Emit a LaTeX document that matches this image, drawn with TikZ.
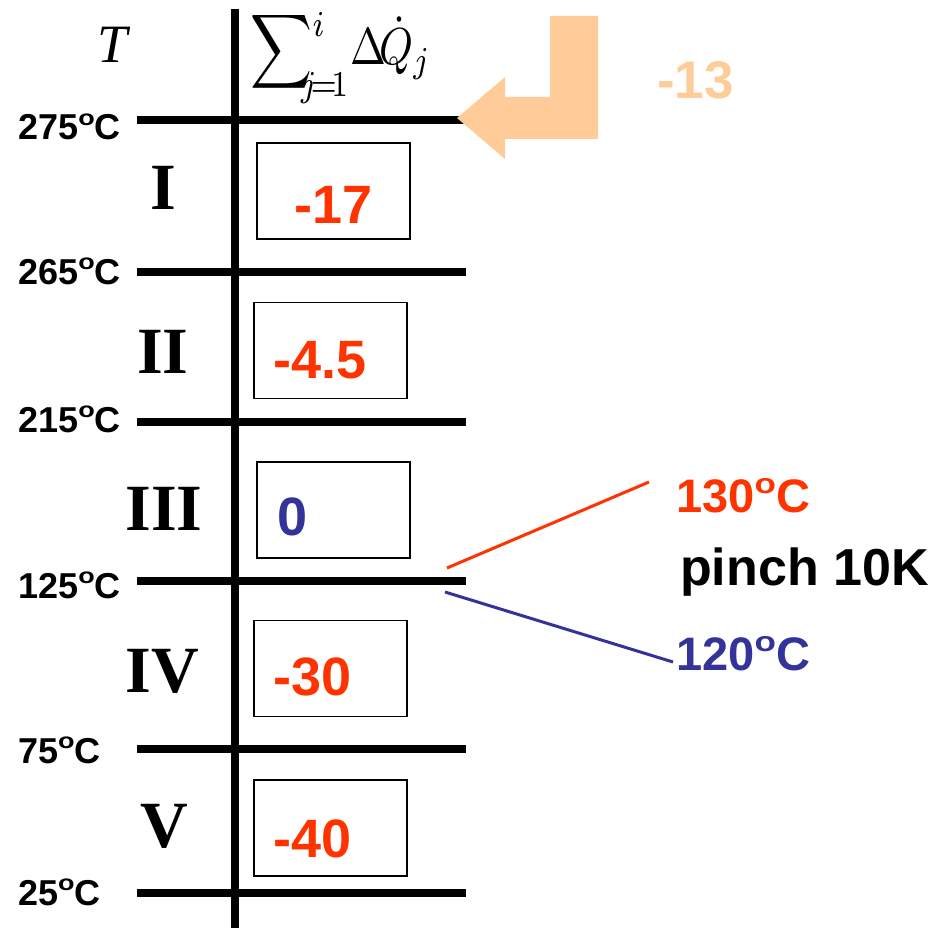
\documentclass[tikz,border=0pt]{standalone}
\usepackage{fontspec}
\usepackage{graphicx}
\setmainfont{Liberation Sans}
\newfontfamily\timesf{Liberation Serif}
\definecolor{hotred}{RGB}{255,51,0}
\definecolor{coldblue}{RGB}{51,51,153}
\definecolor{peach}{RGB}{255,204,153}
\newcommand{\degA}{\raisebox{14.5pt}{\fontsize{21.6}{22}\selectfont\scalebox{1.25}[1]{o}}}
\newcommand{\degB}{\raisebox{19pt}{\fontsize{28}{28}\selectfont\scalebox{1.25}[1]{o}}}
\begin{document}
\begin{tikzpicture}[x=1pt,y=-1pt,
  hline/.style={line width=8pt},
  tlabel/.style={anchor=base west, inner sep=0pt, font=\fontsize{36}{40}\selectfont\bfseries},
  roman/.style={anchor=base, inner sep=0pt, font=\fontsize{66}{70}\selectfont\timesf\bfseries},
  qbox/.style={draw, line width=1.5pt, minimum width=153pt, minimum height=96pt, inner sep=0pt},
  qval/.style={anchor=base west, inner sep=0pt, font=\fontsize{54}{60}\selectfont\bfseries},
  pinchlbl/.style={anchor=base west, inner sep=0pt, font=\fontsize{47}{52}\selectfont\bfseries},
  pinchline/.style={line width=3pt}]
\useasboundingbox (0,0) rectangle (952,928);
% axis
\coordinate (axtop) at (235,9);
\coordinate (axbot) at (235,928);
\draw[hline] (axtop) -- (axbot);
% temperature levels
\foreach \n/\y in {275/120,265/272,215/422,125/581,75/749,25/893}{
  \coordinate (L\n) at (137,\y);
  \coordinate (R\n) at (466,\y);
  \draw[hline] (L\n) -- (R\n);
}
% temperature labels
\node[tlabel] (t275) at (18,140) {275\degA C};
\node[tlabel] (t265) at (18,284) {265\degA C};
\node[tlabel] (t215) at (18,432) {215\degA C};
\node[tlabel] (t125) at (18,598) {125\degA C};
\node[tlabel] (t75) at (18,763) {75\degA C};
\node[tlabel] (t25) at (18,905) {25\degA C};
% header
\node[anchor=base, inner sep=0pt, font=\fontsize{54}{60}\selectfont\timesf\itshape] (hT) at (113,63) {T};
\node[anchor=base west, inner sep=0pt] (hsum) at (250,65) {\scalebox{4.3}[5.2]{$\displaystyle\sum\nolimits_{\!\!j\!=\!1}^{\raisebox{-2.5pt}{$\scriptstyle i$}}\!\Delta\!\dot{Q}_{j}$}};
% roman numerals
\node[roman] (rI) at (163,209) {I};
\node[roman] (rII) at (163,373) {II};
\node[roman] (rIII) at (164,530) {III};
\node[roman] (rIV) at (162,692) {IV};
\node[roman] (rV) at (164,847) {V};
% boxes
\node[qbox] (b1) at (333.5,191) {};
\node[qbox] (b2) at (330.5,350.5) {};
\node[qbox] (b3) at (333.5,510) {};
\node[qbox] (b4) at (330.5,668.5) {};
\node[qbox] (b5) at (330.5,828) {};
% box values
\node[qval, text=hotred] (v1) at (294,223) {-17};
\node[qval, text=hotred] (v2) at (273,378) {-4.5};
\node[qval, text=coldblue] (v3) at (277,535) {0};
\node[qval, text=hotred] (v4) at (273,695) {-30};
\node[qval, text=hotred] (v5) at (273,857) {-40};
% peach arrow
\fill[peach] (598,16) -- (550,16) -- (550,97) -- (505,97) -- (505,77) -- (457,118)
  -- (505,159) -- (505,139) -- (598,139) -- cycle;
\node[anchor=base west, inner sep=0pt, font=\fontsize{53}{58}\selectfont\bfseries, text=peach] (m13) at (657,99) {-13};
% pinch
\node[pinchlbl, text=hotred] (p130) at (676,512) {130\degB C};
\node[anchor=base west, inner sep=0pt, font=\fontsize{52}{58}\selectfont\bfseries] (pinch) at (680,585) {pinch 10K};
\node[pinchlbl, text=coldblue] (p120) at (676,670) {120\degB C};
\coordinate (rs) at (447,568);
\coordinate (re) at (649,482);
\coordinate (bs) at (445,592);
\coordinate (be) at (673,662);
\draw[pinchline, hotred] (rs) -- (re);
\draw[pinchline, coldblue] (bs) -- (be);
\end{tikzpicture}
\end{document}
